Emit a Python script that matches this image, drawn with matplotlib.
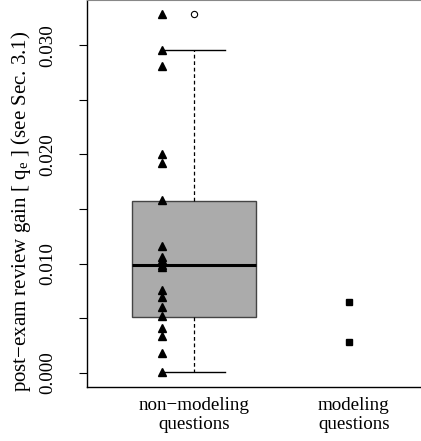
import numpy as np
import matplotlib
matplotlib.use('Agg')
import matplotlib.pyplot as plt

plt.rcParams['font.family'] = 'Liberation Serif'
plt.rcParams['mathtext.fontset'] = 'stix'

# данные
categories = ['non\u2212modeling\nquestions', 'modeling\nquestions']
nonmodeling = [0.03285, 0.02955, 0.02809, 0.02004, 0.01921, 0.01583,
               0.01162, 0.01059, 0.01034, 0.00988, 0.00973, 0.00759,
               0.00693, 0.00607, 0.00524, 0.00415, 0.00339, 0.00180, 0.00006]
modeling = [0.00647, 0.00286]

# статистика боксплота (как в R)
box_med, box_q1, box_q3 = 0.00988, 0.00515, 0.01574
box_lo, box_hi = 0.00006, 0.02955
box_fliers = [0.03285]

yticks = [0.0, 0.005, 0.010, 0.015, 0.020, 0.025, 0.030]
ylabels = ['0.000', '', '0.010', '', '0.020', '', '0.030']

fig = plt.figure(figsize=(4.21, 4.41), dpi=100)
ax = fig.add_axes([87/421, 54/441, 1 - 87/421, 1 - 54/441])

stats = [dict(med=box_med, q1=box_q1, q3=box_q3, whislo=box_lo, whishi=box_hi,
              fliers=box_fliers)]
ax.bxp(stats, positions=[1], widths=0.78, patch_artist=True, showcaps=True,
       boxprops=dict(facecolor='#ababab', edgecolor='#444444', linewidth=1),
       medianprops=dict(color='black', linewidth=2.2),
       whiskerprops=dict(color='black', linewidth=0.9, linestyle=(0, (3, 2.2))),
       capprops=dict(color='black', linewidth=1),
       capwidths=0.39,
       flierprops=dict(marker='o', markerfacecolor='white', markeredgecolor='black',
                       markersize=4.5, markeredgewidth=0.8))

ax.plot([1 - 0.2] * len(nonmodeling), nonmodeling, '^', color='black',
        markersize=5.5, linestyle='none', clip_on=False)
ax.plot([2 - 0.03] * len(modeling), modeling, 's', color='black',
        markersize=4.3, linestyle='none')

ax.set_xlim(0.331, 2.42)
ax.set_ylim(-0.00128, 0.03413)

ax.set_xticks([1, 2])
ax.set_xticklabels(categories, fontsize=13.7, linespacing=1.15)
ax.tick_params(axis='x', length=0, pad=7)

ax.set_yticks(yticks)
ax.set_yticklabels(ylabels, fontsize=13.7, rotation=90, va='center')
ax.tick_params(axis='y', length=5.8, width=0.8, pad=16)

ax.spines['right'].set_visible(False)
ax.spines['top'].set_color('#888888')
for s in ['left', 'bottom']:
    ax.spines[s].set_linewidth(1)

fig.text(21/421, 1 - 211/441,
         'post\u2212exam review gain [ q$_\\mathregular{e}$ ] (see Sec. 3.1)',
         rotation=90, ha='center', va='center', fontsize=15)

fig.savefig('out.png', dpi=100)
